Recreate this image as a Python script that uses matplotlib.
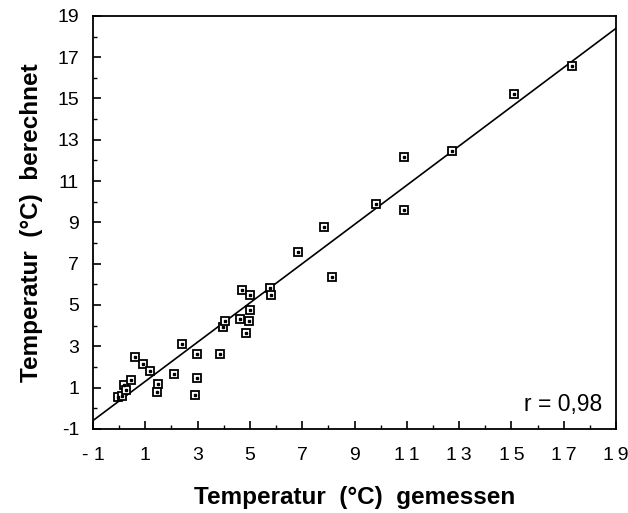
import matplotlib.pyplot as plt
import numpy as np

plt.rcParams['font.family'] = ['Liberation Sans', 'DejaVu Sans']
plt.rcParams['axes.unicode_minus'] = False

# gemessen (x) / berechnet (y)
t_gemessen = [-0.04, 0.12, 0.17, 0.26, 0.47, 0.62, 0.91, 1.18, 1.50, 1.44,
              2.09, 2.42, 2.98, 2.98, 2.91, 3.85, 3.96, 4.04, 4.61, 4.85,
              4.99, 4.98, 4.69, 5.00, 5.77, 5.82, 6.85, 8.15, 7.83, 9.81,
              10.91, 10.91, 12.73, 15.11, 17.30]
t_berechnet = [0.55, 0.61, 1.13, 0.89, 1.36, 2.47, 2.16, 1.82, 1.19, 0.79,
               1.68, 3.13, 2.65, 1.44, 0.63, 2.65, 3.95, 4.24, 4.34, 3.63,
               4.75, 4.20, 5.73, 5.50, 5.84, 5.50, 7.57, 6.37, 8.80, 9.91,
               9.59, 12.16, 12.48, 15.22, 16.59]

# Regressionsgerade
slope = 0.95
intercept = 0.35
r_text = 'r = 0,98'

x_ticks = [-1, 1, 3, 5, 7, 9, 11, 13, 15, 17, 19]
x_ticklabels = ['- 1', '1', '3', '5', '7', '9',
                '1\u20091', '1\u20093', '1\u20095', '1\u20097', '1\u20099']
y_ticks = [-1, 1, 3, 5, 7, 9, 11, 13, 15, 17, 19]

fig = plt.figure(figsize=(6.28, 5.13), dpi=100)
ax = fig.add_axes([0.148, 0.164, 0.833, 0.805])

xl = np.array([-1, 19])
ax.plot(xl, slope * xl + intercept, color='black', linewidth=1.2, zorder=2)

ax.plot(t_gemessen, t_berechnet, linestyle='none', marker='s', markersize=6.3,
        markerfacecolor='white', markeredgecolor='black', markeredgewidth=1.3, zorder=3)
ax.plot(t_gemessen, t_berechnet, linestyle='none', marker='s', markersize=1.5,
        color='black', zorder=4)

ax.set_xlim(-1, 19)
ax.set_ylim(-1, 19)
ax.set_xticks(x_ticks)
ax.set_xticklabels(x_ticklabels)
ax.set_yticks(y_ticks)
ax.set_xticks(np.arange(-1, 20, 1), minor=True)
ax.set_yticks(np.arange(-1, 20, 1), minor=True)
ax.tick_params(which='major', direction='in', length=6, width=1.2, labelsize=14)
ax.tick_params(axis='x', which='major', pad=13)
ax.tick_params(axis='y', which='major', pad=10)
ax.tick_params(which='minor', direction='in', length=3, width=1.0)
ax.tick_params(top=False, right=False)
for s in ax.spines.values():
    s.set_linewidth(1.3)

ax.set_xlabel('Temperatur  (°C)  gemessen', fontsize=17.5, fontweight='bold', labelpad=16)
ax.set_ylabel('Temperatur  (°C)  berechnet', fontsize=17.5, fontweight='bold', labelpad=10)

ax.text(0.973, 0.058, r_text, transform=ax.transAxes, ha='right', va='center', fontsize=16.5)

fig.savefig('out.png', dpi=100)
